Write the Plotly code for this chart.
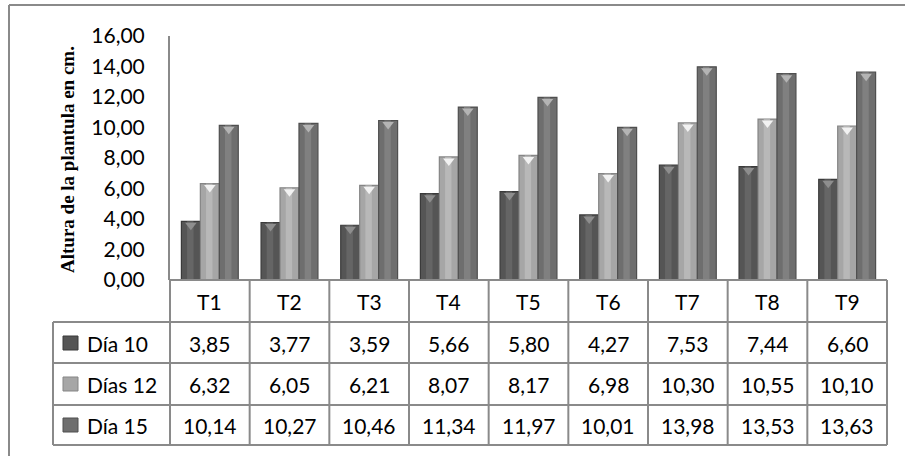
import plotly.graph_objects as go

# ---- data -------------------------------------------------------------
tratamientos = ["T1", "T2", "T3", "T4", "T5", "T6", "T7", "T8", "T9"]
series_names = ["Día 10", "Días 12", "Día 15"]
dia_10 = [3.85, 3.77, 3.59, 5.66, 5.80, 4.27, 7.53, 7.44, 6.60]
dias_12 = [6.32, 6.05, 6.21, 8.07, 8.17, 6.98, 10.30, 10.55, 10.10]
dia_15 = [10.14, 10.27, 10.46, 11.34, 11.97, 10.01, 13.98, 13.53, 13.63]
y_ticks = [0, 2, 4, 6, 8, 10, 12, 14, 16]
y_title = "Altura de la plantula en cm."

series_values = [dia_10, dias_12, dia_15]

# ---- styling -------------------------------------------------------------
W, H = 905, 456
L, R, T, B = 170, 887, 36, 280          # plot area in pixels
GRID = "#8a8a8a"
SANS = "Lato, 'Open Sans', sans-serif"
SERIF = "'Liberation Serif', 'Times New Roman', serif"
FS = 21

base_col = ["#555555", "#a6a6a6", "#6e6e6e"]
edge_col = ["#3a3a3a", "#858585", "#4f4f4f"]
shine_col = ["#6a6a6a", "#bdbdbd", "#858585"]
top_col = ["#8e8e8e", "#f2f2f2", "#b4b4b4"]

bar_w = 0.238
first_off = -0.357


def px_x(px):
    return (px - L) / (R - L)


def px_y(py):
    return (B - py) / (B - T)


def fmt(v):
    return f"{v:.2f}".replace(".", ",")


idx = list(range(len(tratamientos)))
fig = go.Figure()

for k, (name, vals) in enumerate(zip(series_names, series_values)):
    off = first_off + k * bar_w
    fig.add_trace(go.Bar(
        x=idx, y=vals, name=name, width=bar_w, offset=off,
        marker=dict(color=base_col[k], line=dict(color=edge_col[k], width=1.2)),
        showlegend=False,
    ))
    # light stripe down the bar for a rounded look
    fig.add_trace(go.Bar(
        x=idx, y=vals, width=bar_w * 0.34, offset=off + bar_w * 0.3,
        marker=dict(color=shine_col[k], line=dict(width=0)),
        opacity=0.8, showlegend=False, hoverinfo="skip",
    ))
    # bevelled top face
    fig.add_trace(go.Scatter(
        x=[i + off + bar_w / 2 for i in idx], y=vals, mode="markers",
        marker=dict(symbol="triangle-down", size=10, color=top_col[k],
                    line=dict(width=0), standoff=4, angle=0),
        showlegend=False, hoverinfo="skip",
    ))

shapes = []
ann = []


def hline(py, x0, x1):
    shapes.append(dict(type="line", xref="paper", yref="paper",
                       x0=px_x(x0), x1=px_x(x1), y0=px_y(py), y1=px_y(py),
                       line=dict(color=GRID, width=2)))


def vline(px, y0, y1):
    shapes.append(dict(type="line", xref="paper", yref="paper",
                       x0=px_x(px), x1=px_x(px), y0=px_y(y0), y1=px_y(y1),
                       line=dict(color=GRID, width=2)))


def label(x, xref, py, text, xanchor="center", **font):
    f = dict(family=SANS, size=FS, color="#000")
    f.update(font)
    ann.append(dict(x=x, y=px_y(py), xref=xref, yref="paper", text=text,
                    xanchor=xanchor, yanchor="middle", showarrow=False, font=f))


# outer chart frame (top and left edges)
hline(5, 9, W + 5)
vline(9, 5, H + 5)

# data table grid
row_lines = [322, 363, 405, 445]
hline(B, L, R)
for ry in row_lines:
    hline(ry, 53, R)
col_w = (R - L) / len(tratamientos)
for i in range(len(tratamientos) + 1):
    vline(L + i * col_w, B, row_lines[-1])
vline(53, row_lines[0], row_lines[-1])

# header row
for i, t in enumerate(tratamientos):
    label(i, "x", 301, t)

row_centres = [343, 384, 425]
for k, (name, vals) in enumerate(zip(series_names, series_values)):
    cy = row_centres[k]
    for i, v in enumerate(vals):
        label(i, "x", cy, fmt(v))
    # legend key + series name
    shapes.append(dict(type="rect", xref="paper", yref="paper",
                       x0=px_x(63), x1=px_x(78), y0=px_y(cy + 7), y1=px_y(cy - 7),
                       fillcolor=base_col[k], line=dict(color=edge_col[k], width=1)))
    label(px_x(85), "paper", cy, name, xanchor="left")

# axis title
ann.append(dict(x=px_x(67), y=px_y(160), xref="paper", yref="paper", text=y_title,
                xanchor="center", yanchor="middle", textangle=-90, showarrow=False,
                font=dict(family=SERIF, size=19, color="#000", weight="bold")))

fig.update_layout(
    width=W, height=H,
    margin=dict(l=L, r=W - R, t=T, b=H - B, pad=0),
    paper_bgcolor="white", plot_bgcolor="white",
    barmode="overlay", separators=",.",
    shapes=shapes, annotations=ann,
    xaxis=dict(range=[-0.5, len(tratamientos) - 0.5], visible=False, fixedrange=True),
    yaxis=dict(range=[0, 16], tickvals=y_ticks, tickformat=".2f",
               showline=True, linecolor=GRID, linewidth=2, showgrid=False,
               zeroline=False, ticks="", ticklabelstandoff=19,
               tickfont=dict(family=SANS, size=FS, color="#000"), fixedrange=True),
    showlegend=False,
)

fig.write_html("out.html", config={"displayModeBar": False})
